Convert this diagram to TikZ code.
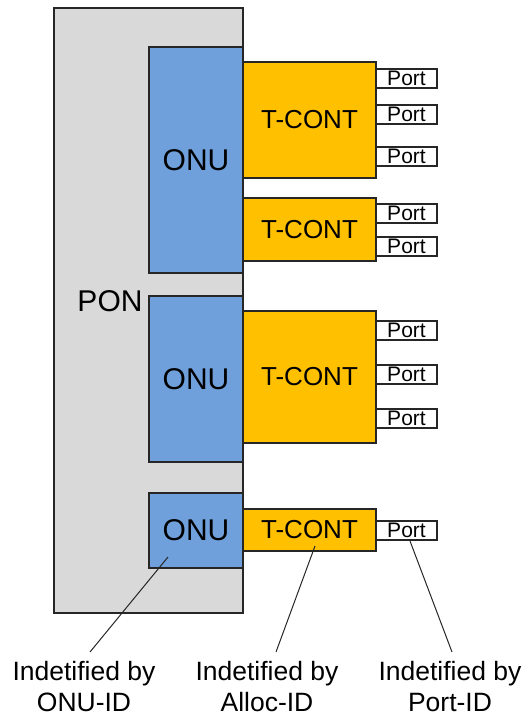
\documentclass[tikz,border=0pt]{standalone}
\usepackage{fontspec}
\setmainfont{Liberation Sans}
\definecolor{pongray}{HTML}{D9D9D9}
\definecolor{onublue}{HTML}{6FA0DC}
\definecolor{tcorange}{HTML}{FFC000}
\tikzset{
  box/.style={draw=black!85, line width=1.3pt, anchor=north west, inner sep=0pt, outer sep=0pt},
  ponbox/.style={box, fill=pongray},
  onubox/.style={box, fill=onublue, font=\fontsize{30}{36}\selectfont},
  tcbox/.style={box, fill=tcorange, font=\fontsize{26}{31}\selectfont},
  portbox/.style={box, fill=white, line width=1.1pt, minimum width=61pt, minimum height=19pt, font=\fontsize{21}{22}\selectfont},
  note/.style={align=center, anchor=north, inner sep=0pt, font=\fontsize{26.5}{31.5}\selectfont},
  pointer/.style={line width=1pt, black!85}
}
\begin{document}
\begin{tikzpicture}[x=1pt, y=-1pt]
\useasboundingbox (0,0) rectangle (532,717);
% PON
\node[ponbox, minimum width=189pt, minimum height=605pt] (pon) at (54,8) {};
\node[font=\fontsize{30}{36}\selectfont, inner sep=0pt] (ponlabel) at (110,301) {PON};
% ONUs
\node[onubox, minimum width=94pt, minimum height=226pt] (onu1) at (149,47) {ONU};
\node[onubox, minimum width=94pt, minimum height=166pt] (onu2) at (149,296) {ONU};
\node[onubox, minimum width=94pt, minimum height=75pt] (onu3) at (149,493) {ONU};
% T-CONTs
\node[tcbox, minimum width=133pt, minimum height=116pt] (tc1) at (243,62) {T-CONT};
\node[tcbox, minimum width=133pt, minimum height=63pt] (tc2) at (243,198) {T-CONT};
\node[tcbox, minimum width=133pt, minimum height=132pt] (tc3) at (243,311) {T-CONT};
\node[tcbox, minimum width=133pt, minimum height=42pt] (tc4) at (243,509) {T-CONT};
% Ports
\node[portbox] (p1) at (376,69) {Port};
\node[portbox] (p2) at (376,105) {Port};
\node[portbox] (p3) at (376,147) {Port};
\node[portbox] (p4) at (376,204) {Port};
\node[portbox] (p5) at (376,237) {Port};
\node[portbox] (p6) at (376,321) {Port};
\node[portbox] (p7) at (376,365) {Port};
\node[portbox] (p8) at (376,409) {Port};
\node[portbox] (p9) at (376,521) {Port};
% Notes
\node[note] (n1) at (84,661) {Indetified by\\ONU-ID};
\node[note] (n2) at (267,661) {Indetified by\\Alloc-ID};
\node[note] (n3) at (450,661) {Indetified by\\Port-ID};
% pointer ends
\coordinate (a1) at (168,557);
\coordinate (b1) at (90,652);
\coordinate (a2) at (315,546);
\coordinate (b2) at (276,652);
\coordinate (a3) at (410,541);
\coordinate (b3) at (452,652);
\draw[pointer] (a1) -- (b1);
\draw[pointer] (a2) -- (b2);
\draw[pointer] (a3) -- (b3);
\end{tikzpicture}
\end{document}
